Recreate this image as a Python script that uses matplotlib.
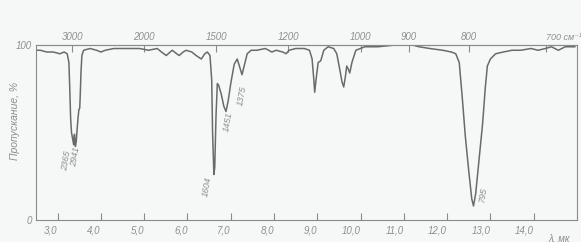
"""IR spectrum (scan style): transmittance vs wavelength, wavenumber on top."""

import numpy as np
import matplotlib

matplotlib.use("Agg")
import matplotlib.pyplot as plt

# spectrum: wavelength (mk) and transmittance (%)
wavelength = [
    2.50, 2.60, 2.75, 2.90, 3.05, 3.15, 3.22, 3.26, 3.28, 3.30, 3.32, 3.35, 3.37,
    3.38, 3.39, 3.41, 3.43, 3.45, 3.47, 3.49, 3.51, 3.52, 3.54, 3.56, 3.60, 3.75,
    3.90, 4.00, 4.10, 4.30, 4.60, 4.90, 5.10, 5.30, 5.40, 5.51, 5.60, 5.65, 5.75,
    5.81, 5.90, 5.97, 6.10, 6.20, 6.26, 6.32, 6.40, 6.46, 6.52, 6.56, 6.58, 6.61,
    6.63, 6.66, 6.69, 6.72, 6.78, 6.84, 6.89, 6.94, 7.00, 7.08, 7.15, 7.20, 7.26,
    7.31, 7.38, 7.47, 7.60, 7.80, 7.95, 8.05, 8.20, 8.28, 8.35, 8.50, 8.70, 8.82,
    8.88, 8.92, 8.94, 8.97, 9.02, 9.08, 9.15, 9.25, 9.38, 9.45, 9.52, 9.57, 9.61,
    9.65, 9.68, 9.72, 9.75, 9.80, 9.89, 10.1, 10.4, 10.8, 11.2, 11.35, 11.6, 11.9,
    12.1, 12.2, 12.28, 12.35, 12.42, 12.50, 12.57, 12.61, 12.66, 12.74, 12.82,
    12.88, 12.93, 13.0, 13.12, 13.3, 13.5, 13.7, 13.94, 14.1, 14.27, 14.41, 14.57,
    14.73, 14.95,
]
transmittance = [
    97, 97, 96, 96, 95, 96, 95, 90, 75, 58, 50, 46, 43,
    48, 49, 42, 45, 52, 58, 63, 64, 70, 85, 94, 97, 98,
    97, 96, 97, 98, 98, 98, 97, 98, 96, 94, 96, 97, 95,
    94, 96, 97, 96, 94, 93, 92, 95, 96, 94, 80, 50, 26,
    30, 60, 78, 77, 72, 65, 62, 68, 78, 89, 92, 88, 83,
    88, 95, 97, 97, 98, 96, 97, 96, 95, 97, 98, 98, 97,
    92, 80, 73, 80, 90, 91, 97, 99, 98, 95, 86, 79, 76,
    82, 88, 86, 84, 90, 97, 99, 99, 100, 100, 99, 98, 97,
    96, 95, 90, 70, 48, 28, 12, 8, 15, 35, 55,
    75, 88, 92, 95, 96, 97, 97, 98, 97, 98, 99, 97,
    99, 99,
]

# band labels: text, wavelength, transmittance where the text sits
peak_labels = ["2365", "2941", "1604", "1451", "1375", "795"]
peak_x = [3.21, 3.41, 6.46, 6.94, 7.26, 12.82]
peak_y = [34, 36, 19, 56, 71, 14]

bottom_ticks = [3, 4, 5, 6, 7, 8, 9, 10, 11, 12, 13, 14]
bottom_labels = ["3,0", "4,0", "5,0", "6,0", "7,0", "8,0", "9,0", "10,0",
                 "11,0", "12,0", "13,0", "14,0"]
top_ticks = [3000, 2000, 1500, 1200, 1000, 900, 800, 700]
top_labels = ["3000", "2000", "1500", "1200", "1000", "900", "800", "700 см⁻¹"]

INK = "#6a6a6a"
TXT = "#8e8e8e"
PAPER = "#f6f8f8"
FONT = dict(family=["Liberation Sans", "DejaVu Sans"], style="italic", color=TXT)


def inv(x):
    x = np.asarray(x, dtype=float)
    with np.errstate(divide="ignore"):
        return 1e4 / x


fig = plt.figure(figsize=(5.81, 2.42), dpi=100, facecolor=PAPER)
ax = fig.add_axes([0.062, 0.091, 0.931, 0.723], facecolor=PAPER)

ax.plot(wavelength, transmittance, color=INK, lw=1.1)

ax.set_xlim(2.5, 15.0)
ax.set_ylim(0, 100)
for side in ax.spines.values():
    side.set_color("#8a8a8a")
    side.set_linewidth(0.8)

ax.set_xticks(bottom_ticks)
ax.set_xticklabels(bottom_labels, fontsize=7, **FONT)
for lbl in ax.get_xticklabels():
    lbl.set_horizontalalignment("right")
ax.tick_params(axis="x", direction="in", length=5, color="#8a8a8a", pad=4)

ax.set_yticks([0, 100])
ax.set_yticklabels(["0", "100"], fontsize=7, **FONT)
ax.tick_params(axis="y", length=0, pad=3)
fig.text(0.026, 0.5, "Пропускание, %", rotation=90, fontsize=7.5,
         ha="center", va="center", **FONT)

top = ax.secondary_xaxis("top", functions=(inv, inv))
top.set_xticks(top_ticks)
top.set_xticklabels(top_labels, fontsize=7, **FONT)
last = top.get_xticklabels()[-1]
last.set_horizontalalignment("left")
last.set_fontsize(6.5)
top.tick_params(axis="x", direction="in", length=5, color="#8a8a8a", pad=2)
top.spines["top"].set_color("#8a8a8a")

ax.text(14.35, -0.075, "λ, мк", transform=ax.get_xaxis_transform(),
        fontsize=7, va="top", ha="left", **FONT)

for text, x, y in zip(peak_labels, peak_x, peak_y):
    ax.text(x, y, text, rotation=80, fontsize=6.5, ha="center", va="center", **FONT)

fig.savefig("out.png", dpi=100, facecolor=PAPER)
